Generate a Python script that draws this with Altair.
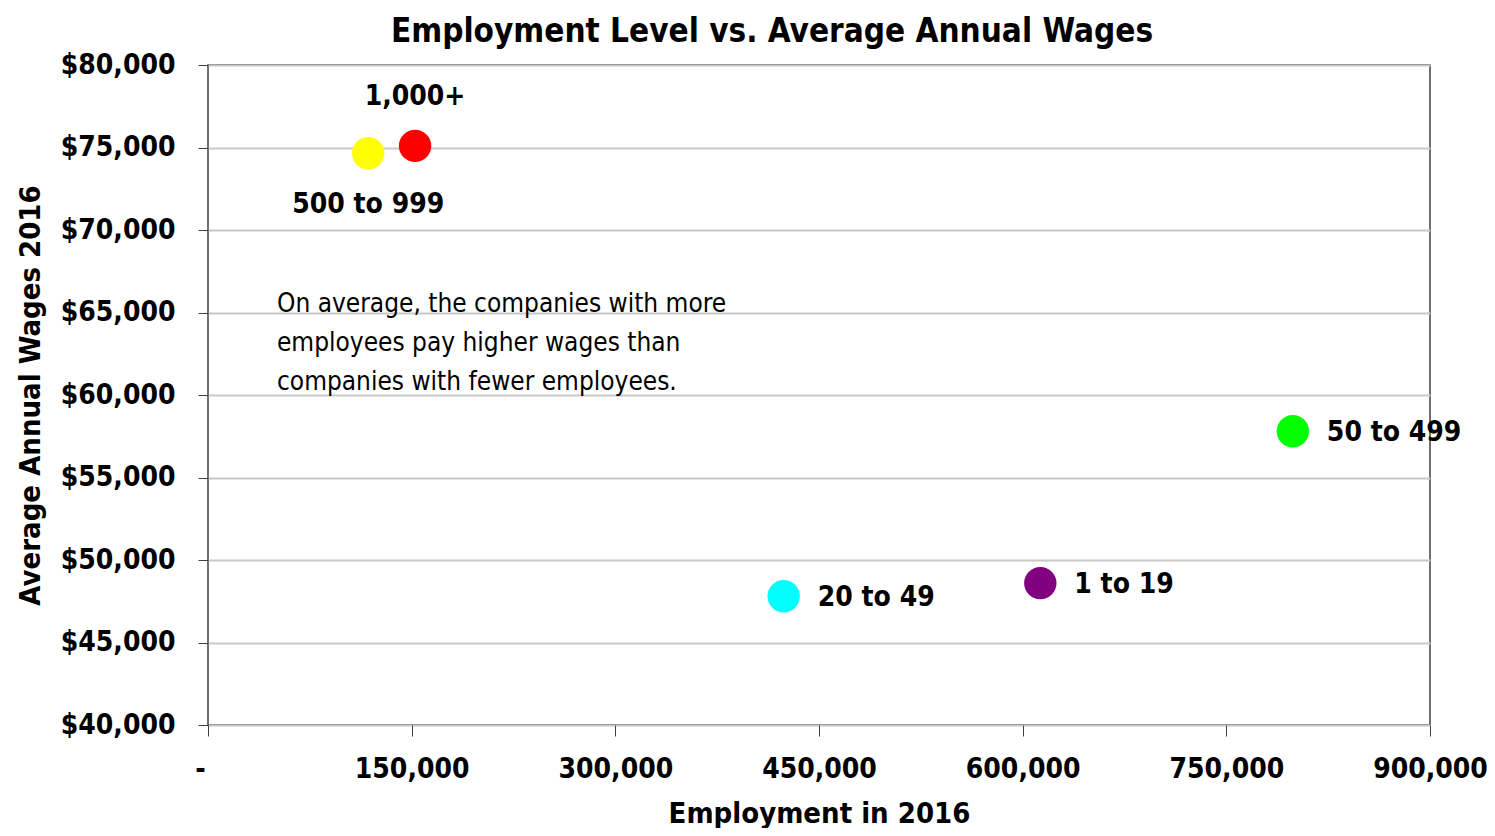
import altair as alt
import pandas as pd

# Data
groups = ["1,000+", "500 to 999", "50 to 499", "20 to 49", "1 to 19"]
employment = [152500, 118000, 799000, 424000, 613000]
wages = [75100, 74650, 57800, 47800, 48600]
colors = ["#FF0000", "#FFFF00", "#00FF00", "#00FFFF", "#800080"]
label_pos = ["above", "below", "right", "right", "right"]

note_lines = ["On average, the companies with more",
              "employees pay higher wages than",
              "companies with fewer employees."]
note_x = [50800]
note_y = [65500]

title_text = "Employment Level vs. Average Annual Wages"

FONT = "Liberation Sans Narrow, Arial Narrow, DejaVu Sans Condensed, sans-serif"

df = pd.DataFrame({"group": groups, "emp": employment, "wage": wages,
                   "color": colors, "pos": label_pos})
note_df = pd.DataFrame({"x": note_x, "y": note_y, "text": [note_lines]})
title_df = pd.DataFrame({"t": [title_text]})

xscale = alt.Scale(domain=[0, 900000], nice=False, zero=True)
yscale = alt.Scale(domain=[40000, 80000], nice=False, zero=False)

x_enc = alt.X("emp:Q", scale=xscale, axis=alt.Axis(
    title="Employment in 2016", values=[0, 150000, 300000, 450000, 600000, 750000, 900000],
    labelExpr="datum.value == 0 ? '-' : format(datum.value, ',')",
    labelOffset=alt.condition("datum.value == 0", alt.value(-8), alt.value(0)),
    grid=False, tickSize=11, tickColor="#404040", domain=False,
    labelFont=FONT, labelFontSize=28, labelFontWeight="bold", labelColor="black",
    labelPadding=19, labelBaseline="top", labelFlush=False, labelOverlap=False,
    titleFont=FONT, titleFontSize=29, titleFontWeight="bold", titleColor="black",
    titleX=611, titleY=88, titleBaseline="middle", titleAlign="center"))

y_enc = alt.Y("wage:Q", scale=yscale, axis=alt.Axis(
    title="Average Annual Wages 2016", values=list(range(40000, 80001, 5000)),
    format="$,d", grid=True, gridColor="#c8c8c8", gridWidth=2,
    tickSize=10, tickColor="#404040", domain=False,
    labelFont=FONT, labelFontSize=28, labelFontWeight="bold", labelColor="black",
    labelPadding=23, labelBaseline="middle",
    titleFont=FONT, titleFontSize=29, titleFontWeight="bold", titleColor="black",
    titleX=-178, titleY=330, titleAngle=270, titleBaseline="middle", titleAlign="center"))

points = alt.Chart(df).mark_circle(size=1050, opacity=1).encode(
    x=x_enc, y=y_enc,
    color=alt.Color("color:N", scale=None),
)

def lbl(pos, **kw):
    return alt.Chart(df).transform_filter(alt.datum.pos == pos).mark_text(
        font=FONT, fontSize=28, fontWeight="bold", color="black", **kw
    ).encode(x="emp:Q", y="wage:Q", text="group:N")

lab_right = lbl("right", align="left", baseline="middle", dx=34, dy=2)
lab_above = lbl("above", align="center", baseline="middle", dy=-49)
lab_below = lbl("below", align="center", baseline="middle", dy=52)

note = alt.Chart(note_df).mark_text(
    font=FONT, fontSize=26, align="left", baseline="middle",
    lineHeight=39, color="black"
).encode(x="x:Q", y="y:Q", text="text")

title = alt.Chart(title_df).mark_text(
    font=FONT, fontSize=33, fontWeight="bold", color="black",
    align="center", baseline="alphabetic"
).encode(x=alt.value(564), y=alt.value(-23), text="t:N")

chart = alt.layer(points, lab_right, lab_above, lab_below, note, title).properties(
    width=1222, height=660,
    background="white",
    autosize=alt.AutoSizeParams(type="none"),
    padding={"left": 200, "top": 57, "right": 57, "bottom": 103},
).configure_view(stroke="#404040", strokeWidth=1.5)

chart.save("out.html", embed_options={"renderer": "svg", "actions": False})
